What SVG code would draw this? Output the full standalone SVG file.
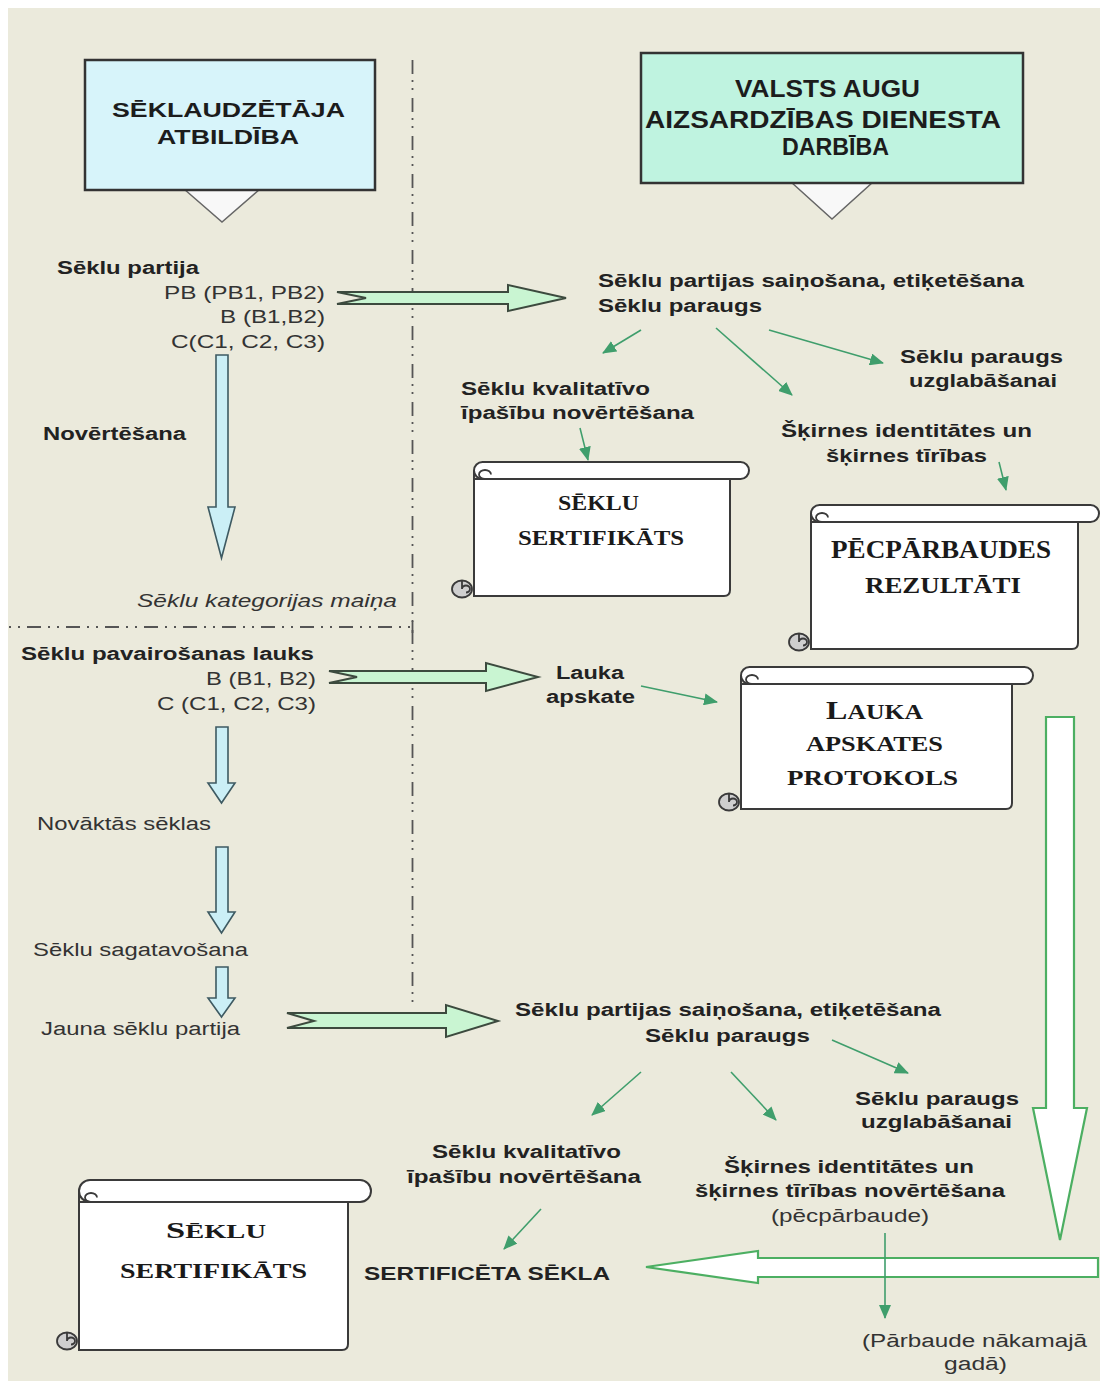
<svg xmlns="http://www.w3.org/2000/svg" width="1105" height="1385" viewBox="0 0 1105 1385">
<style>
.bgw{fill:#ffffff}
.bg{fill:#EBEADC}
.hdrL{fill:#D7F4FA;stroke:#333;stroke-width:2.5}
.hdrR{fill:#BFF3E0;stroke:#333;stroke-width:2.5}
.ptr{fill:#F8F8F8;stroke:#666;stroke-width:1.5}
.h{font-family:"Liberation Sans",Arial,sans-serif;font-weight:700;fill:#1c1c1c}
.b{font-family:"Liberation Sans",Arial,sans-serif;font-weight:700;font-size:18px;fill:#222}
.r{font-family:"Liberation Sans",Arial,sans-serif;font-size:18px;fill:#333}
.i{font-family:"Liberation Sans",Arial,sans-serif;font-style:italic;font-size:18px;fill:#333}
.st{font-family:"Liberation Serif","Times New Roman",serif;font-weight:700;fill:#1a1a1a}
.scroll{fill:#fff;stroke:#3a3a3a;stroke-width:2}
.curl{fill:none;stroke:#3a3a3a;stroke-width:1.8}
.curlb{fill:#CFCFCF;stroke:#3a3a3a;stroke-width:1.8}
.fatG{fill:#C9F5D2;stroke:#3c4a3e;stroke-width:2;stroke-linejoin:miter}
.fatC{fill:#CBEFF6;stroke:#3e5a62;stroke-width:1.6}
.bigW{fill:#fff;stroke:#4CAF62;stroke-width:2.2}
.thin{stroke:#3F9E6C;stroke-width:1.6;fill:none;marker-end:url(#ah)}
.dd{stroke:#555;stroke-width:1.8;fill:none}
</style>
<defs>
<marker id="ah" markerUnits="userSpaceOnUse" markerWidth="14" markerHeight="12" refX="13" refY="6" orient="auto">
<path d="M0,0 L14,6 L0,12 z" fill="#3F9E6C"/>
</marker>
<g id="curlT"><path class="curl" d="M0,0 a6,4.5 0 1 1 6,-4.5"/></g>
<g id="curlB"><ellipse class="curlb" cx="0" cy="0" rx="10" ry="8.5"/><path class="curl" d="M0,0 a4,3.5 0 1 1 4,3.5 M0,0 L0,-8"/></g>
</defs>

<rect class="bgw" x="0" y="0" width="1105" height="1385"/>
<rect class="bg" x="8" y="8" width="1092" height="1373"/>

<g id="dividers">
<path class="dd" d="M412.5,60 V1005" stroke-dasharray="14 6 2 6 2 8"/>
<path class="dd" d="M9,627 H412.5" stroke-dasharray="2 7 2 7 14 7"/>
<path class="dd" d="M412.5,621 V633" style="stroke-dasharray:none"/>
</g>

<g id="hdr-left">
<path class="ptr" d="M184,189 L222,222 L260,189 Z"/>
<rect class="hdrL" x="85" y="60" width="290" height="130"/>
<text class="h" font-size="21" x="112" y="117" textLength="233" lengthAdjust="spacingAndGlyphs">SĒKLAUDZĒTĀJA</text>
<text class="h" font-size="21" x="157" y="144" textLength="142" lengthAdjust="spacingAndGlyphs">ATBILDĪBA</text>
</g>

<g id="hdr-right">
<path class="ptr" d="M791,182 L832,219 L873,182 Z"/>
<rect class="hdrR" x="641" y="53" width="382" height="130"/>
<text class="h" font-size="23" x="735" y="97" textLength="185" lengthAdjust="spacingAndGlyphs">VALSTS AUGU</text>
<text class="h" font-size="23" x="645" y="128" textLength="356" lengthAdjust="spacingAndGlyphs">AIZSARDZĪBAS DIENESTA</text>
<text class="h" font-size="23" x="782" y="155" textLength="107" lengthAdjust="spacingAndGlyphs">DARBĪBA</text>
</g>

<g id="connectors">
<path class="fatG" d="M337,292 H508 V285 L566,298 L508,311 V304 H337 L366,298 Z"/>
<path class="fatG" d="M329,671 H486 V663 L538,677 L486,691 V683 H329 L357,677 Z"/>
<path class="fatG" d="M287,1013 H446 V1005 L498,1021 L446,1037 V1028 H287 L314,1021 Z"/>
<path class="fatC" d="M216,355 H228 V507 H235 L221.5,558 L208,507 H216 Z"/>
<path class="fatC" d="M216,727 H228 V783 H235 L221.5,803 L208,783 H216 Z"/>
<path class="fatC" d="M216,847 H228 V912 H235 L221.5,933 L208,912 H216 Z"/>
<path class="fatC" d="M216,967 H228 V998 H235 L221.5,1017 L208,998 H216 Z"/>
<path class="bigW" d="M1046,717 H1074 V1108 H1087 L1060,1240 L1033,1108 H1046 Z"/>
<path class="bigW" d="M1098,1258 V1277 H758 V1283 L646,1267 L758,1251 V1258 Z"/>
<path class="thin" d="M641,330 L603,353"/>
<path class="thin" d="M716,328 L792,395"/>
<path class="thin" d="M769,330 L883,363"/>
<path class="thin" d="M580,428 L588,460"/>
<path class="thin" d="M999,462 L1006,490"/>
<path class="thin" d="M641,686 L717,702"/>
<path class="thin" d="M641,1072 L592,1115"/>
<path class="thin" d="M731,1072 L776,1120"/>
<path class="thin" d="M832,1040 L908,1073"/>
<path class="thin" d="M541,1209 L504,1249"/>
<path class="thin" d="M885,1233 L885,1318"/>
</g>

<g id="left-texts">
<text class="b" x="57" y="274" textLength="142" lengthAdjust="spacingAndGlyphs">Sēklu partija</text>
<text class="r" font-size="19" x="164" y="299" textLength="161" lengthAdjust="spacingAndGlyphs">PB (PB1, PB2)</text>
<text class="r" font-size="19" x="220" y="323" textLength="105" lengthAdjust="spacingAndGlyphs">B (B1,B2)</text>
<text class="r" font-size="19" x="171" y="348" textLength="154" lengthAdjust="spacingAndGlyphs">C(C1, C2, C3)</text>
<text class="b" x="43" y="440" textLength="143" lengthAdjust="spacingAndGlyphs">Novērtēšana</text>
<text class="i" x="137" y="607" textLength="260" lengthAdjust="spacingAndGlyphs">Sēklu kategorijas  maiņa</text>
<text class="b" x="21" y="660" textLength="293" lengthAdjust="spacingAndGlyphs">Sēklu pavairošanas lauks</text>
<text class="r" font-size="19" x="206" y="685" textLength="110" lengthAdjust="spacingAndGlyphs">B (B1, B2)</text>
<text class="r" font-size="19" x="157" y="710" textLength="159" lengthAdjust="spacingAndGlyphs">C (C1, C2, C3)</text>
<text class="r" x="37" y="830" textLength="174" lengthAdjust="spacingAndGlyphs">Novāktās sēklas</text>
<text class="r" x="33" y="956" textLength="215" lengthAdjust="spacingAndGlyphs">Sēklu sagatavošana</text>
<text class="r" x="41" y="1035" textLength="199" lengthAdjust="spacingAndGlyphs">Jauna sēklu partija</text>
</g>

<g id="right-top-texts">
<text class="b" x="598" y="287" textLength="426" lengthAdjust="spacingAndGlyphs">Sēklu partijas saiņošana, etiķetēšana</text>
<text class="b" x="598" y="312" textLength="164" lengthAdjust="spacingAndGlyphs">Sēklu paraugs</text>
<text class="b" x="900" y="363" textLength="163" lengthAdjust="spacingAndGlyphs">Sēklu paraugs</text>
<text class="b" x="909" y="387" textLength="148" lengthAdjust="spacingAndGlyphs">uzglabāšanai</text>
<text class="b" x="461" y="395" textLength="189" lengthAdjust="spacingAndGlyphs">Sēklu kvalitatīvo</text>
<text class="b" x="461" y="419" textLength="233" lengthAdjust="spacingAndGlyphs">īpašību novērtēšana</text>
<text class="b" x="781" y="437" textLength="251" lengthAdjust="spacingAndGlyphs">Šķirnes identitātes un</text>
<text class="b" x="826" y="462" textLength="161" lengthAdjust="spacingAndGlyphs">šķirnes tīrības</text>
<text class="b" x="556" y="679" textLength="68" lengthAdjust="spacingAndGlyphs">Lauka</text>
<text class="b" x="546" y="703" textLength="89" lengthAdjust="spacingAndGlyphs">apskate</text>
</g>

<g id="right-bottom-texts">
<text class="b" x="515" y="1016" textLength="426" lengthAdjust="spacingAndGlyphs">Sēklu partijas saiņošana, etiķetēšana</text>
<text class="b" x="645" y="1042" textLength="165" lengthAdjust="spacingAndGlyphs">Sēklu paraugs</text>
<text class="b" x="855" y="1105" textLength="164" lengthAdjust="spacingAndGlyphs">Sēklu paraugs</text>
<text class="b" x="861" y="1128" textLength="151" lengthAdjust="spacingAndGlyphs">uzglabāšanai</text>
<text class="b" x="724" y="1173" textLength="250" lengthAdjust="spacingAndGlyphs">Šķirnes identitātes un</text>
<text class="b" x="695" y="1197" textLength="310" lengthAdjust="spacingAndGlyphs">šķirnes tīrības novērtēšana</text>
<text class="r" x="771" y="1222" textLength="158" lengthAdjust="spacingAndGlyphs">(pēcpārbaude)</text>
<text class="r" x="862" y="1347" textLength="225" lengthAdjust="spacingAndGlyphs">(Pārbaude nākamajā</text>
<text class="r" x="944" y="1370" textLength="63" lengthAdjust="spacingAndGlyphs">gadā)</text>
<text class="b" x="432" y="1158" textLength="189" lengthAdjust="spacingAndGlyphs">Sēklu kvalitatīvo</text>
<text class="b" x="407" y="1183" textLength="234" lengthAdjust="spacingAndGlyphs">īpašību novērtēšana</text>
<text class="b" font-size="19" x="364" y="1280" textLength="246" lengthAdjust="spacingAndGlyphs">SERTIFICĒTA SĒKLA</text>
</g>

<g id="scroll-sertifikats-1">
<path class="scroll" d="M474,470.5 L474,596 L724,596 Q730,596 730,590 L730,479 L474,479 Z"/>
<rect class="scroll" x="474" y="462" width="275" height="17" rx="8.5"/>
<use href="#curlT" x="485" y="479"/>
<use href="#curlB" x="462" y="589"/>
<text class="st" font-size="21" x="558" y="510" textLength="81" lengthAdjust="spacingAndGlyphs">SĒKLU</text>
<text class="st" font-size="21" x="518" y="545" textLength="166" lengthAdjust="spacingAndGlyphs">SERTIFIKĀTS</text>
</g>

<g id="scroll-pecparbaudes">
<path class="scroll" d="M811,513.5 L811,649 L1072,649 Q1078,649 1078,643 L1078,522 L811,522 Z"/>
<rect class="scroll" x="811" y="505" width="288" height="17" rx="8.5"/>
<use href="#curlT" x="822" y="522"/>
<use href="#curlB" x="799" y="642"/>
<text class="st" font-size="25" x="831" y="558" textLength="220" lengthAdjust="spacingAndGlyphs">PĒCPĀRBAUDES</text>
<text class="st" font-size="24" x="865" y="593" textLength="156" lengthAdjust="spacingAndGlyphs">REZULTĀTI</text>
</g>

<g id="scroll-lauka">
<path class="scroll" d="M741,675.5 L741,809 L1006,809 Q1012,809 1012,803 L1012,684 L741,684 Z"/>
<rect class="scroll" x="741" y="667" width="292" height="17" rx="8.5"/>
<use href="#curlT" x="752" y="684"/>
<use href="#curlB" x="729" y="802"/>
<text class="st" font-size="20" x="826" y="719" textLength="97" lengthAdjust="spacingAndGlyphs"><tspan font-size="25">L</tspan>AUKA</text>
<text class="st" font-size="22" x="806" y="751" textLength="137" lengthAdjust="spacingAndGlyphs">APSKATES</text>
<text class="st" font-size="22" x="787" y="785" textLength="171" lengthAdjust="spacingAndGlyphs">PROTOKOLS</text>
</g>

<g id="scroll-sertifikats-2">
<path class="scroll" d="M79,1191 L79,1350 L342,1350 Q348,1350 348,1344 L348,1202 L79,1202 Z"/>
<rect class="scroll" x="79" y="1180" width="292" height="22" rx="11"/>
<use href="#curlT" x="91" y="1202"/>
<use href="#curlB" x="67" y="1341"/>
<text class="st" font-size="19" x="166" y="1238" textLength="100" lengthAdjust="spacingAndGlyphs"><tspan font-size="23">S</tspan>ĒKLU</text>
<text class="st" font-size="20" x="120" y="1278" textLength="187" lengthAdjust="spacingAndGlyphs">SERTIFIKĀTS</text>
</g>
</svg>
